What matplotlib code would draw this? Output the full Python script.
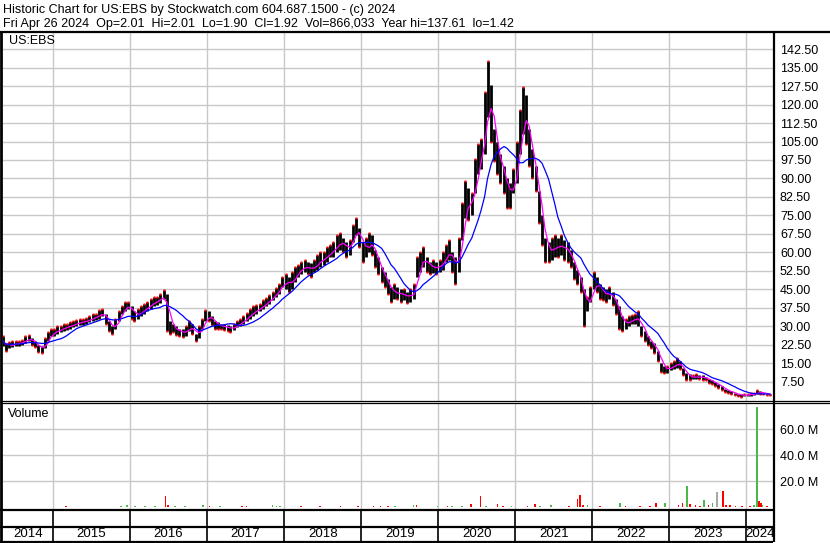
import numpy as np
import pandas as pd
import matplotlib
matplotlib.use("Agg")
import matplotlib.pyplot as plt
from matplotlib.lines import Line2D

plt.rcParams['font.family'] = ['Liberation Sans', 'DejaVu Sans']

# ---------------- data (semi-monthly high / low) -------------
hi_2014 = [26, 23, 23.5, 24, 24, 24, 24.5, 26, 26.5, 25, 24, 22.5, 22, 25, 27.5, 29]
lo_2014 = [22, 20, 21, 21.5, 22, 22, 22.5, 23, 24, 22.5, 21.5, 19.5, 19, 21, 24, 26]
hi_2015 = [29, 30, 30, 31, 31, 31.5, 32, 32.5, 33, 33, 33.5, 34, 35, 35, 36.5, 37, 35, 32, 30, 33, 36, 38, 40, 40]
lo_2015 = [26, 27, 27.5, 28, 28.5, 29, 29.5, 30, 30.5, 30.5, 31, 31.5, 32, 32.5, 33, 34, 31, 28, 27, 29, 32, 35, 36, 37]
hi_2016 = [38, 36, 37, 38, 39, 40, 41, 42, 42, 43, 44.5, 43, 32, 31, 30, 29, 29, 30, 32, 31, 27, 30, 33, 36.5]
lo_2016 = [33, 32, 33, 34, 35, 36, 37, 38, 38.5, 39.5, 41, 28, 27, 27.5, 26.5, 26, 25.5, 26, 28, 27, 24, 25, 29, 32]
hi_2017 = [36, 34, 32, 31.5, 31, 31, 30.5, 30, 31, 32, 33, 34, 35.5, 37, 38, 38.5, 39, 40.5, 41.5, 42.5, 44, 45.5, 47, 50]
lo_2017 = [32, 30.5, 29, 29, 29, 28.5, 28, 27.5, 28.5, 29.5, 30, 31, 32, 33, 34, 35, 36, 37, 38, 39, 40.5, 42, 43, 46]
hi_2018 = [51, 50, 52, 54, 55, 56, 57, 56, 55.5, 57, 59, 60, 60, 62, 63, 64, 67, 68, 66, 64, 65, 71, 74, 70]
lo_2018 = [45, 44, 45, 48, 50, 51, 52, 51, 50, 52, 53, 54, 55, 56, 58, 58, 60, 61, 60, 58, 59, 64, 67, 62]
hi_2019 = [64, 66, 68, 67, 61, 58, 54, 52, 49, 46, 47, 46, 45, 45, 44, 45, 47, 58, 60, 62, 58, 56, 57, 56]
lo_2019 = [56, 58, 60, 59, 54, 51, 48, 46, 43, 40, 41, 41, 40, 40.5, 39.5, 40, 41, 50, 52, 54, 52, 51, 51.5, 51]
hi_2020 = [57, 60, 63, 65, 60, 58, 66, 80, 89, 86, 84, 98, 104, 106, 125, 137.6, 128, 110, 105, 100, 95, 90, 88, 94]
lo_2020 = [52, 53, 56, 57, 52, 47, 52, 65, 74, 73, 75, 84, 92, 94, 100, 115, 105, 97, 92, 88, 84, 78, 78, 84]
hi_2021 = [105, 118, 127, 124, 110, 102, 95, 85, 75, 66, 64, 66, 67, 66, 67, 65, 64, 61, 56, 53, 50, 45, 42, 46]
lo_2021 = [88, 100, 108, 104, 95, 90, 85, 72, 63, 56, 56, 57, 58, 58, 59, 57, 56, 54, 49, 47, 44, 30, 36, 40]
hi_2022 = [52, 50, 47, 46, 45, 46, 44, 41, 38, 34, 33, 34, 34.5, 35, 36, 30, 28, 26, 24, 23, 20, 15, 14, 14]
lo_2022 = [45, 44, 41, 40.5, 40, 41, 38.5, 35, 29, 28, 29, 30, 31, 31, 30, 26, 24, 22.5, 21, 19, 16, 11.5, 11, 11]
hi_2023 = [15, 16, 17, 16, 13, 11, 10.5, 10, 10.5, 10, 10, 9.5, 8.5, 8, 7.5, 6.5, 5.5, 4.5, 4, 3.5, 3, 2.6, 2.4, 2.5]
lo_2023 = [12, 12.5, 13, 12.5, 10, 8, 8, 8.5, 8.5, 8.5, 8.2, 8, 7, 6.5, 5.5, 5, 4, 3.3, 3, 2.5, 2, 1.5, 1.4, 1.5]
hi_2024 = [2.5, 2.8, 3, 4, 3.5, 3, 2.6, 2.3]
lo_2024 = [1.6, 1.8, 2.1, 2.6, 2.5, 2.4, 2.1, 1.9]

# volume bars visible in the lower panel: (decimal year, millions, colour code)
vol_year = [2014.345, 2015.17, 2015.88, 2015.96, 2016.06, 2016.19, 2016.32, 2016.46, 2016.49, 2016.58,
            2016.71, 2016.95, 2017.03, 2017.17, 2017.45, 2017.51, 2017.85, 2017.90, 2017.95, 2018.22,
            2018.47, 2018.73, 2018.96, 2019.16, 2019.25, 2019.35, 2019.44, 2019.68, 2019.72, 2019.99,
            2020.12, 2020.18, 2020.31, 2020.43, 2020.55, 2020.62, 2020.77, 2020.84, 2020.95, 2021.16,
            2021.26, 2021.32, 2021.46, 2021.70, 2021.81, 2021.84, 2021.88, 2021.94, 2022.10, 2022.36,
            2022.43, 2022.62, 2022.75, 2022.83, 2022.94, 2023.12, 2023.17, 2023.23, 2023.27, 2023.34,
            2023.40, 2023.45, 2023.51, 2023.56, 2023.62, 2023.70, 2023.74, 2023.79, 2023.86, 2023.94,
            2024.05, 2024.10, 2024.14, 2024.16, 2024.19, 2024.21, 2024.27]
vol_m = [0.8, 0.7, 1.1, 1.8, 0.7, 0.7, 0.7, 8.5, 1.8, 0.7,
         0.7, 1.5, 0.8, 0.7, 0.8, 0.7, 1.8, 1.0, 0.8, 0.8,
         1.2, 1.2, 1.2, 0.8, 0.8, 0.8, 0.7, 1.5, 2.0, 0.7,
         0.8, 1.2, 1.0, 2.2, 8.5, 1.2, 2.4, 1.0, 1.0, 1.3,
         2.5, 1.0, 1.5, 0.8, 6.0, 9.2, 1.5, 2.0, 0.8, 3.5,
         1.0, 0.8, 0.8, 3.0, 3.5, 2.0, 3.0, 16.0, 2.5, 1.5,
         1.0, 5.4, 1.5, 3.0, 11.5, 12.3, 2.0, 1.5, 1.2, 1.0,
         1.0, 1.5, 77.0, 4.8, 3.5, 2.0, 0.8]
vol_dir = ['r', 'r', 'g', 'g', 'g', 'g', 'g', 'r', 'r', 'g',
           'g', 'g', 'r', 'g', 'r', 'r', 'g', 'g', 'g', 'r',
           'r', 'r', 'r', 'r', 'r', 'r', 'g', 'g', 'r', 'g',
           'r', 'g', 'g', 'r', 'r', 'g', 'r', 'r', 'g', 'r',
           'r', 'g', 'g', 'r', 'r', 'r', 'r', 'g', 'r', 'g',
           'r', 'r', 'r', 'r', 'g', 'r', 'r', 'g', 'r', 'r',
           'r', 'g', 'r', 'g', 'n', 'r', 'r', 'r', 'r', 'r',
           'r', 'g', 'g', 'r', 'r', 'g', 'r']

price_ticks = [7.5, 15.0, 22.5, 30.0, 37.5, 45.0, 52.5, 60.0, 67.5, 75.0,
               82.5, 90.0, 97.5, 105.0, 112.5, 120.0, 127.5, 135.0, 142.5]
vol_ticks = [20, 40, 60]
years = [2014, 2015, 2016, 2017, 2018, 2019, 2020, 2021, 2022, 2023, 2024]

header1 = "Historic Chart for US:EBS by Stockwatch.com 604.687.1500 - (c) 2024"
header2 = "Fri Apr 26 2024  Op=2.01  Hi=2.01  Lo=1.90  Cl=1.92  Vol=866,033  Year hi=137.61  lo=1.42"

# ---------------- preparation -------------
high = np.array(hi_2014 + hi_2015 + hi_2016 + hi_2017 + hi_2018 + hi_2019 + hi_2020 +
                hi_2021 + hi_2022 + hi_2023 + hi_2024, dtype=float)
low = np.array(lo_2014 + lo_2015 + lo_2016 + lo_2017 + lo_2018 + lo_2019 + lo_2020 +
               lo_2021 + lo_2022 + lo_2023 + lo_2024, dtype=float)
dates = pd.date_range('2014-05-01', periods=len(high), freq='SMS')
t = dates.year + (dates.dayofyear - 1 + 7) / 365.25
t = np.asarray(t, dtype=float)
mid = (high + low) / 2
ma_fast = pd.Series(mid).rolling(3, min_periods=1).mean().values
ma_slow = pd.Series(mid).rolling(10, min_periods=1).mean().values
up = np.r_[True, mid[1:] >= mid[:-1]]

W, H = 830, 543
fig = plt.figure(figsize=(W / 100, H / 100), dpi=100)
fig.patch.set_facecolor('white')


def rect(x0, y0, x1, y1):
    return [x0 / W, 1 - y1 / H, (x1 - x0) / W, (y1 - y0) / H]


X0, X1 = 2014.3445, 2024.346
GRID = '#c8c8c8'
FS = 9

ax = fig.add_axes(rect(2.5, 31.5, 773, 400.5))
axv = fig.add_axes(rect(2.5, 402.5, 773, 509.5))
axb = fig.add_axes(rect(2.5, 509.5, 773, 541.5))

for a in (ax, axv, axb):
    a.set_xlim(X0, X1)
    for s in a.spines.values():
        s.set_visible(False)
    a.set_xticks(years[1:])
    a.tick_params(axis='x', length=0, labelbottom=False)

# price panel
ax.set_ylim(-0.2, 149.7)
ax.set_yticks(price_ticks)
ax.set_yticklabels([f"{v:.2f}" for v in price_ticks])
ax.yaxis.tick_right()
ax.tick_params(axis='y', length=0, pad=5, labelsize=FS)
ax.grid(True, color=GRID, lw=1.0)
ax.set_axisbelow(True)
ax.vlines(t, low, high, colors='black', lw=2.0, zorder=2)
ax.plot(t[up], high[up], 's', color='red', ms=1.5, mec='none', zorder=3)
ax.plot(t[~up], low[~up], 's', color='red', ms=1.5, mec='none', zorder=3)
ax.plot(t, ma_fast, color='#ff00ff', lw=0.9, zorder=4)
ax.plot(t, ma_slow, color='#0000ff', lw=0.9, zorder=5)

# volume panel
cmap = {'r': '#ff0000', 'g': '#4cb84c', 'n': '#a8a8a8'}
axv.set_ylim(-1.7, 80.5)
axv.set_yticks(vol_ticks)
axv.set_yticklabels([f"{v:.1f} M" for v in vol_ticks])
axv.yaxis.tick_right()
axv.tick_params(axis='y', length=0, pad=5, labelsize=FS)
axv.grid(True, color=GRID, lw=1.0)
axv.set_axisbelow(True)
axv.bar(vol_year, vol_m, width=0.022, color=[cmap[c] for c in vol_dir], zorder=2)

# bottom year strip
axb.set_ylim(0, 1)
axb.set_yticks([])
bounds = [X0] + years[1:] + [X1]
for i, y in enumerate(years):
    c = (bounds[i] + bounds[i + 1]) / 2
    axb.text(c, 0.23, str(y), ha='center', va='center', fontsize=FS + 0.5)


def hl(x0, x1, y, lw):
    fig.add_artist(Line2D([x0 / W, x1 / W], [1 - y / H, 1 - y / H], color='black', lw=lw,
                          solid_capstyle='butt'))


def vl(x, y0, y1, lw):
    fig.add_artist(Line2D([x / W, x / W], [1 - y0 / H, 1 - y1 / H], color='black', lw=lw,
                          solid_capstyle='butt'))


hl(0, 830, 31.5, 1.6)
hl(0, 830, 400.5, 0.9)
hl(0, 830, 402.7, 0.9)
hl(0, 773, 509.8, 1.6)
hl(0, 773, 527, 1.6)
hl(0, 773, 541.5, 1.6)
vl(1.2, 31.5, 542, 2.0)
vl(773.8, 31.5, 542, 1.6)
for y in years[1:]:
    xp = 2.5 + (y - X0) / (X1 - X0) * (773 - 2.5)
    vl(xp, 509.8, 541.5, 1.2)

fig.text(3 / W, 1 - 9.5 / H, header1, fontsize=9.0, va='center', ha='left')
fig.text(3 / W, 1 - 23.5 / H, header2, fontsize=9.0, va='center', ha='left')
fig.text(9 / W, 1 - 41 / H, "US:EBS", fontsize=FS, va='center', ha='left')
fig.text(8 / W, 1 - 414 / H, "Volume", fontsize=FS, va='center', ha='left')

fig.savefig('out.png', dpi=100, facecolor='white')
